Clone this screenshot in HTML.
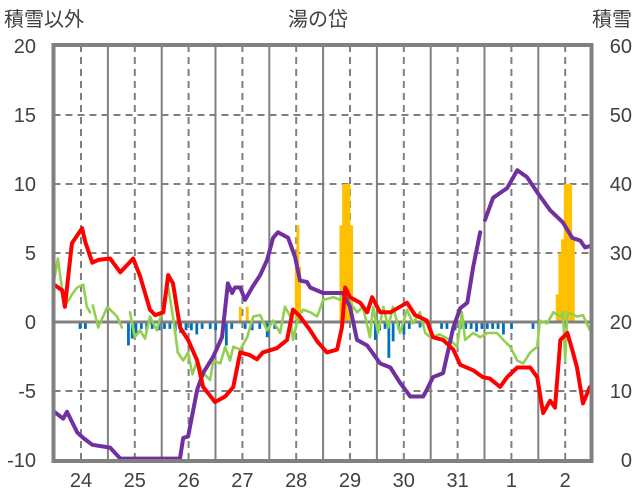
<!DOCTYPE html>
<html><head><meta charset="utf-8"><style>
body{margin:0;background:#fff;width:636px;height:501px;overflow:hidden}
svg{display:block;font-family:"Liberation Sans","Noto Sans CJK JP",sans-serif}
</style></head><body>
<svg id="chart" width="636" height="501" xmlns="http://www.w3.org/2000/svg">
<text x="4" y="26" font-size="20" fill="#404040">積雪以外</text>
<text x="318" y="26" font-size="20" fill="#404040" text-anchor="middle">湯の岱</text>
<text x="632" y="26" font-size="20" fill="#404040" text-anchor="end">積雪</text>
</svg>
<script>
const days=["24","25","26","27","28","29","30","31","1","2"];
const leftTicks=[20,15,10,5,0,-5,-10];
const rightTicks=[60,50,40,30,20,10,0];
const redT=[0,0.15,0.2,0.33,0.52,0.58,0.71,0.82,1.04,1.23,1.47,1.6,1.78,1.88,2.03,2.12,2.21,2.34,2.49,2.66,2.77,2.99,3.18,3.33,3.46,3.64,3.77,3.88,4.14,4.33,4.44,4.57,4.76,4.89,5.07,5.26,5.35,5.41,5.5,5.69,5.82,5.91,6.06,6.25,6.43,6.56,6.71,6.93,7.04,7.23,7.42,7.55,7.79,7.97,8.1,8.29,8.42,8.61,8.85,8.98,9.09,9.22,9.31,9.41,9.54,9.63,9.72,9.83,9.96];
const redV=[2.7,2.3,1.1,5.7,6.8,5.8,4.3,4.5,4.6,3.6,4.6,3.3,0.9,0.5,0.7,3.4,2.8,-0.4,-1.3,-2.8,-4.7,-5.8,-5.4,-4.7,-2.2,-2.4,-2.7,-2.2,-1.9,-1.3,0.9,0.4,-0.6,-1.4,-2.2,-2.0,-0.4,2.5,1.8,1.4,0.7,1.8,0.7,0.7,1.1,1.4,0.5,0.1,-1.1,-1.3,-2.0,-3.1,-3.5,-4.0,-4.1,-4.7,-4.0,-3.3,-3.3,-4.0,-6.6,-5.7,-6.2,-1.3,-0.8,-2.0,-3.3,-5.9,-4.7];
const purT=[0,0.17,0.24,0.43,0.54,0.71,1.04,1.23,2.34,2.4,2.49,2.66,2.77,2.96,3.12,3.23,3.31,3.36,3.46,3.55,3.68,3.83,3.96,4.07,4.16,4.35,4.48,4.57,4.7,4.76,5.0,5.37,5.5,5.63,5.82,6.06,6.25,6.43,6.62,6.86,6.93,7.04,7.23,7.42,7.55,7.68,7.79,7.92,7.96,8.01,8.16,8.42,8.61,8.79,8.98,9.22,9.46,9.63,9.78,9.87,9.96];
const purV=[-6.5,-7.0,-6.5,-8.0,-8.4,-8.9,-9.1,-9.9,-9.9,-8.4,-8.3,-4.9,-3.7,-2.5,-1.1,2.8,2.1,2.5,2.5,1.6,2.5,3.4,4.5,6.1,6.5,6.1,4.7,3.0,2.9,2.5,2.1,2.1,1.1,-1.3,-1.7,-3.0,-3.3,-4.4,-5.4,-5.4,-4.9,-4.0,-3.7,-0.4,1.0,1.4,4.0,6.5,null,7.4,9.0,9.7,11.0,10.5,9.4,8.1,7.2,6.1,5.9,5.4,5.5];
const grnT=[0,0.07,0.15,0.24,0.35,0.43,0.54,0.61,0.67,0.69,0.72,0.82,0.99,1.17,1.26,1.3,1.41,1.5,1.6,1.69,1.78,1.91,2.0,2.12,2.21,2.3,2.4,2.49,2.57,2.66,2.77,2.9,2.96,3.09,3.18,3.27,3.33,3.46,3.59,3.7,3.83,3.96,4.07,4.2,4.29,4.39,4.44,4.54,4.63,4.76,4.89,5.0,5.19,5.32,5.41,5.5,5.63,5.74,5.87,5.93,6.02,6.12,6.21,6.3,6.43,6.56,6.67,6.8,6.9,6.99,7.17,7.36,7.49,7.58,7.64,7.79,7.92,8.05,8.23,8.35,8.48,8.61,8.72,8.85,8.98,9.03,9.16,9.28,9.41,9.46,9.5,9.54,9.72,9.83,9.96];
const grnV=[3.0,4.6,2.3,1.4,2.1,2.5,2.7,1.1,0.7,null,1.2,-0.4,1.1,0.4,-0.4,null,0.7,-1.1,-0.6,-1.2,0.4,-0.6,0.7,2.5,0.4,-2.2,-2.8,-2.2,-3.8,-2.8,-3.7,-4.2,-2.8,-3.0,-1.8,-2.8,-1.8,-2.0,-1.1,0.4,0.5,-0.6,0.1,-0.8,1.1,0.4,-1.3,0.4,0.9,0.7,0.4,1.6,1.8,1.6,2.3,1.4,0.7,1.1,-1.1,1.1,-0.8,1.1,-0.4,1.1,-0.8,0.9,-0.1,0.7,-0.8,-1.1,-0.9,-1.3,-1.8,0.7,-1.3,-0.8,-1.1,-0.8,-0.8,-1.3,-1.8,-2.8,-3.0,-2.2,-1.8,0.1,-0.1,0.7,0.4,0.7,-2.8,0.7,0.4,0.5,-0.6];
const blueT=[0.48,0.58,1.38,1.45,1.52,1.62,1.72,1.82,1.95,2.05,2.15,2.25,2.35,2.45,2.55,2.65,2.75,2.9,3.0,3.2,3.3,3.55,3.68,3.82,3.96,4.1,5.97,6.05,6.15,6.22,6.3,6.4,6.5,6.6,6.8,7.2,7.3,7.45,7.55,7.65,7.75,7.85,7.95,8.05,8.15,8.25,8.35,8.5,8.9];
const blueV=[-0.5,-0.5,-1.7,-1.2,-0.8,-0.5,-0.6,-0.5,-0.6,-0.5,-0.5,-0.7,-0.8,-0.6,-0.6,-0.9,-0.5,-0.5,-0.6,-1.7,-0.5,-0.5,-0.6,-0.5,-1.1,-0.5,-1.3,-0.6,-0.5,-2.6,-1.4,-0.5,-0.9,-0.5,-0.4,-0.5,-0.5,-0.6,-0.5,-0.5,-0.5,-0.7,-0.5,-0.5,-0.5,-0.5,-0.9,-0.5,-0.5];
const orT=[3.46,3.59,4.5,4.53,4.56,5.33,5.38,5.43,5.48,5.53,9.35,9.4,9.45,9.5,9.55,9.6,9.65];
const orV=[1.1,1.1,4.0,7.0,4.0,7.0,10,10,10,7.0,2.0,5.0,6.0,10,10,10,6.0];

const NS="http://www.w3.org/2000/svg";
const svg=document.getElementById('chart');
const L=53.5,R=591.5,T=45,B=461;
const x=d=>54.1+d*53.8;
const y=v=>322-v*13.8;
const yr=s=>460-s*6.9;
function mk(tag,at,parent){const e=document.createElementNS(NS,tag);for(const k in at)e.setAttribute(k,at[k]);(parent||svg).appendChild(e);return e;}

// grid
leftTicks.forEach(v=>{if(v===20||v===-10||v===0)return;
 const g=mk('line',{x1:L,x2:R,y1:y(v),y2:y(v),stroke:'#808080','stroke-width':2,'stroke-dasharray':'7,5'});
 
 });
days.forEach((dl,i)=>{
 const c=mk('line',{x1:x(i+0.5),x2:x(i+0.5),y1:T,y2:B,stroke:'#808080','stroke-width':2,'stroke-dasharray':'7,5'});
 
 
 if(i>0){const s=mk('line',{x1:x(i),x2:x(i),y1:T,y2:B,stroke:'#808080','stroke-width':2});
 
 }
 const t=mk('text',{x:x(i+0.5),y:487,'font-size':20,fill:'#404040','text-anchor':'middle'});t.textContent=dl;
 
 
});
leftTicks.forEach(v=>{const t=mk('text',{x:36,y:y(v)+7,'font-size':20,fill:'#404040','text-anchor':'end'});t.textContent=v;
 
 });
rightTicks.forEach(s=>{const t=mk('text',{x:632,y:yr(s)+7,'font-size':20,fill:'#404040','text-anchor':'end'});t.textContent=s;
 
 });

// bars
blueT.forEach((d,i)=>{const r=mk('rect',{x:x(d)-1.3,y:y(0),width:2.8,height:y(blueV[i])-y(0),fill:'#0070C0'});
 
 });
orT.forEach((d,i)=>{const r=mk('rect',{x:x(d)-1.4,y:y(orV[i]),width:2.9,height:y(0)-y(orV[i]),fill:'#FFC000'});
 
 });

// zero line
const z=mk('line',{x1:L,x2:R,y1:y(0),y2:y(0),stroke:'#808080','stroke-width':3});



function path(ts,vs,col,w,name){let dstr='',pen=false;
 ts.forEach((t,i)=>{const v=vs[i];if(v===null){pen=false;return;}dstr+=(pen?'L':'M')+x(t).toFixed(1)+','+y(v).toFixed(1);pen=true;});
 const p=mk('path',{d:dstr,fill:'none',stroke:col,'stroke-width':w,'stroke-linejoin':'round','stroke-linecap':'round'});
 
 }
path(grnT,grnV,'#92D050',2.6,'green-series-line');
path(purT,purV,'#7030A0',4,'purple-series-line');
path(redT,redV,'#FF0000',4,'red-series-line');

const f=mk('rect',{x:L,y:T,width:R-L,height:B-T,fill:'none',stroke:'#808080','stroke-width':4});


</script>
</body></html>
